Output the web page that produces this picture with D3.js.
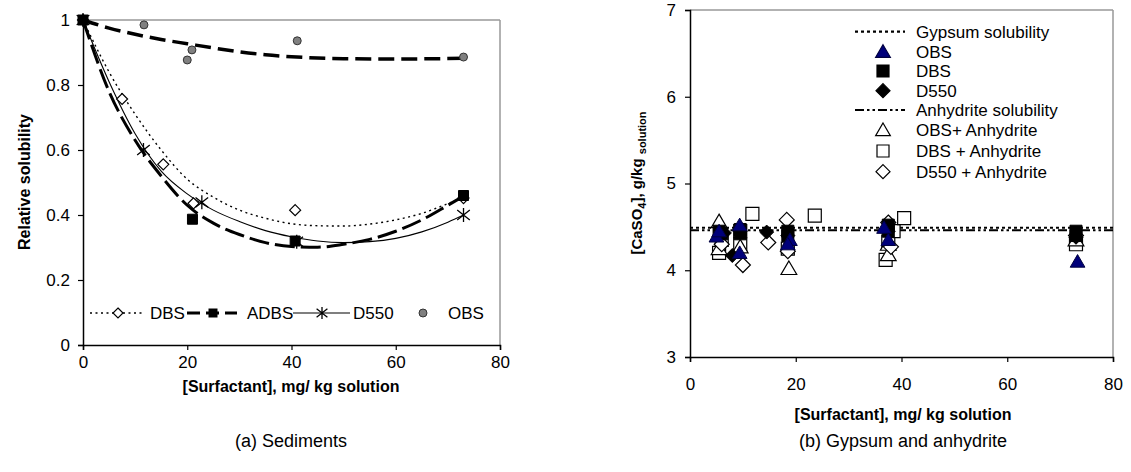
<!DOCTYPE html>
<html><head><meta charset="utf-8">
<script src="https://cdn.jsdelivr.net/npm/d3@7"></script>
<style>body{margin:0;background:#fff}svg{display:block;font-family:"Liberation Sans",Arial,sans-serif}</style>
</head><body><svg id="c" width="1131" height="472"></svg>
<script>
// ---------- Panel (a) data ----------
const xTicksA = [0,20,40,60,80];
const yTicksA = [0,0.2,0.4,0.6,0.8,1];
const dbsX = [0,7.5,15.4,21.2,40.7,73];
const dbsY = [1,0.757,0.556,0.436,0.415,0.452];
const adbsX = [0,21,40.7,73];
const adbsY = [1,0.387,0.32,0.46];
const d550X = [0,11.6,22.8,41,73];
const d550Y = [1,0.60,0.439,0.318,0.40];
const obsX = [0,11.7,20.9,20,41.1,73];
const obsY = [1,0.985,0.908,0.877,0.936,0.886];
// trend lines
const dbsTrendX = [0,5,10,15,20,25,30,35,40,45,50,55,60,65,70,73];
const dbsTrendY = [1,0.84,0.71,0.60,0.51,0.455,0.415,0.39,0.373,0.367,0.366,0.372,0.385,0.405,0.435,0.455];
const adbsTrendX = [0,5,10,15,20,25,30,35,40,45,50,55,60,65,70,73];
const adbsTrendY = [1,0.78,0.63,0.52,0.43,0.375,0.34,0.315,0.303,0.301,0.31,0.325,0.35,0.385,0.43,0.458];
const d550TrendX = [0,5,10,15,20,25,30,35,40,45,50,55,60,65,70,73];
const d550TrendY = [1,0.81,0.65,0.535,0.465,0.415,0.38,0.352,0.333,0.32,0.315,0.318,0.328,0.348,0.378,0.40];
const obsTrendX = [0,5,10,15,20,25,30,35,40,45,50,60,73];
const obsTrendY = [1,0.975,0.956,0.94,0.927,0.914,0.902,0.893,0.887,0.883,0.881,0.88,0.882];

// ---------- Panel (b) data ----------
const xTicksB = [0,20,40,60,80];
const yTicksB = [3,4,5,6,7];
const gypsumSol = 4.49;
const anhydriteSol = 4.46;
const obsB_X = [5,5.5,9.4,9.4,18.9,18.5,36.7,37.5,73.3];
const obsB_Y = [4.39,4.45,4.20,4.52,4.35,4.30,4.49,4.35,4.10];
const dbsB_X = [5.5,6,9.5,9.5,18.5,18.5,37.5,37.5,73,73];
const dbsB_Y = [4.45,4.42,4.47,4.42,4.45,4.40,4.52,4.45,4.45,4.40];
const d550B_X = [6.5,8,9.5,14.5,18.5,37.5,73];
const d550B_Y = [4.43,4.17,4.45,4.44,4.40,4.45,4.38];
const obsAnhX = [5.5,5.5,9.5,18.7,37.5,37.5,73];
const obsAnhY = [4.56,4.25,4.27,4.02,4.18,4.30,4.35];
const dbsAnhX = [5.5,6,9.5,9.5,11.8,18.5,23.6,37,37.5,38.5,40.5,73];
const dbsAnhY = [4.20,4.35,4.30,4.45,4.65,4.25,4.63,4.12,4.33,4.45,4.60,4.30];
const d550AnhX = [6,10,14.8,18.3,18.5,37.5,38,73];
const d550AnhY = [4.30,4.06,4.32,4.58,4.22,4.55,4.27,4.40];

const svg = d3.select("#c");
const FS = 17;

// ================= Panel (a) =================
const xA = d3.scaleLinear().domain([0,80]).range([83,500]);
const yA = d3.scaleLinear().domain([0,1]).range([345,20]);
const gA = svg.append("g");
gA.append("line").attr("x1",xA(0)).attr("x2",xA(80)).attr("y1",yA(1)).attr("y2",yA(1)).attr("stroke","#999").attr("stroke-width",1.5);
gA.append("line").attr("x1",xA(80)).attr("x2",xA(80)).attr("y1",yA(1)).attr("y2",yA(0)).attr("stroke","#999").attr("stroke-width",1.5);
const axA_x = gA.append("g").attr("transform",`translate(0,${yA(0)})`)
  .call(d3.axisBottom(xA).tickValues(xTicksA).tickSize(5).tickPadding(6).tickFormat(d3.format("d")));
const axA_y = gA.append("g").attr("transform",`translate(${xA(0)},0)`)
  .call(d3.axisLeft(yA).tickValues(yTicksA).tickSize(5).tickPadding(8).tickFormat(d=>d===0||d===1?String(d):d3.format(".1f")(d)));
[axA_x,axA_y].forEach(a=>{a.select(".domain").attr("stroke","#000").attr("stroke-width",1.5);
  a.selectAll(".tick line").attr("stroke","#000").attr("stroke-width",1.2);
  a.selectAll("text").attr("font-size",FS).attr("fill","#000").attr("font-family","Liberation Sans, Arial");});

const lineA = d3.line().x(d=>xA(d[0])).y(d=>yA(d[1])).curve(d3.curveMonotoneX);
const zip = (a,b)=>a.map((v,i)=>[v,b[i]]);
gA.append("path").attr("d",lineA(zip(obsTrendX,obsTrendY))).attr("fill","none").attr("stroke","#000").attr("stroke-width",3.5).attr("stroke-dasharray","16,7");
gA.append("path").attr("d",lineA(zip(dbsTrendX,dbsTrendY))).attr("fill","none").attr("stroke","#000").attr("stroke-width",1.4).attr("stroke-dasharray","2,3.5");
gA.append("path").attr("d",lineA(zip(adbsTrendX,adbsTrendY))).attr("fill","none").attr("stroke","#000").attr("stroke-width",3).attr("stroke-dasharray","20,6");
gA.append("path").attr("d",lineA(zip(d550TrendX,d550TrendY))).attr("fill","none").attr("stroke","#000").attr("stroke-width",1.1);

const sym = {
  diamond:(s)=>`M0,${-s}L${s},0L0,${s}L${-s},0Z`,
  square:(s)=>`M${-s},${-s}H${s}V${s}H${-s}Z`,
  tri:(s)=>`M0,${-s}L${s*1.05},${s*0.8}H${-s*1.05}Z`,
  star:(s)=>`M0,${-s}V${s}M${-s*0.9},${-s*0.7}L${s*0.9},${s*0.7}M${-s*0.9},${s*0.7}L${s*0.9},${-s*0.7}`
};
function marks(g,xs,ys,sx,sy,path,fill,stroke,sw){
  g.selectAll(null).data(zip(xs,ys)).enter().append("path")
   .attr("transform",d=>`translate(${sx(d[0])},${sy(d[1])})`).attr("d",path)
   .attr("fill",fill).attr("stroke",stroke).attr("stroke-width",sw);
}
marks(gA,obsX,obsY,xA,yA,d3.symbol(d3.symbolCircle,50)(),"#808080","#333",1);
marks(gA,dbsX,dbsY,xA,yA,sym.diamond(5.5),"#fff","#000",1.2);
marks(gA,adbsX,adbsY,xA,yA,sym.square(5),"#000","#000",1);
marks(gA,d550X,d550Y,xA,yA,sym.star(7),"none","#000",1.3);

// legend (a)
const lgA = gA.append("g");
const ly = 313;
lgA.append("line").attr("x1",90).attr("x2",143).attr("y1",ly).attr("y2",ly).attr("stroke","#000").attr("stroke-width",1.4).attr("stroke-dasharray","2,3.5");
lgA.append("path").attr("transform",`translate(118,${ly})`).attr("d",sym.diamond(5)).attr("fill","#fff").attr("stroke","#000").attr("stroke-width",1.2);
lgA.append("text").attr("x",150).attr("y",ly+6).attr("font-size",FS).text("DBS");
lgA.append("line").attr("x1",187).attr("x2",237).attr("y1",ly).attr("y2",ly).attr("stroke","#000").attr("stroke-width",3).attr("stroke-dasharray","13,6");
lgA.append("path").attr("transform",`translate(213,${ly})`).attr("d",sym.square(4.5)).attr("fill","#000");
lgA.append("text").attr("x",247).attr("y",ly+6).attr("font-size",FS).text("ADBS");
lgA.append("line").attr("x1",293).attr("x2",350).attr("y1",ly).attr("y2",ly).attr("stroke","#000").attr("stroke-width",1.1);
lgA.append("path").attr("transform",`translate(322,${ly})`).attr("d",sym.star(6)).attr("fill","none").attr("stroke","#000").attr("stroke-width",1.3);
lgA.append("text").attr("x",353).attr("y",ly+6).attr("font-size",FS).text("D550");
lgA.append("path").attr("transform",`translate(423,${ly})`).attr("d",d3.symbol(d3.symbolCircle,50)()).attr("fill","#808080").attr("stroke","#333");
lgA.append("text").attr("x",448).attr("y",ly+6).attr("font-size",FS).text("OBS");

gA.append("text").attr("transform","translate(30,182) rotate(-90)").attr("text-anchor","middle")
  .attr("font-size",16).attr("font-weight","bold").text("Relative solubility");
gA.append("text").attr("x",291).attr("y",392).attr("text-anchor","middle").attr("font-size",16).attr("font-weight","bold").text("[Surfactant], mg/ kg solution");
gA.append("text").attr("x",291).attr("y",447).attr("text-anchor","middle").attr("font-size",18).text("(a) Sediments");

// ================= Panel (b) =================
const xB = d3.scaleLinear().domain([0,80]).range([690,1113]);
const yB = d3.scaleLinear().domain([3,7]).range([357,10]);
const gB = svg.append("g");
gB.append("line").attr("x1",xB(0)).attr("x2",xB(80)).attr("y1",yB(7)).attr("y2",yB(7)).attr("stroke","#999").attr("stroke-width",1.5);
gB.append("line").attr("x1",xB(80)).attr("x2",xB(80)).attr("y1",yB(7)).attr("y2",yB(3)).attr("stroke","#999").attr("stroke-width",1.5);
const axB_x = gB.append("g").attr("transform",`translate(0,${yB(3)})`)
  .call(d3.axisBottom(xB).tickValues(xTicksB).tickSize(5).tickPadding(16).tickFormat(d3.format("d")));
const axB_y = gB.append("g").attr("transform",`translate(${xB(0)},0)`)
  .call(d3.axisLeft(yB).tickValues(yTicksB).tickSize(5).tickPadding(9).tickFormat(d3.format("d")));
[axB_x,axB_y].forEach(a=>{a.select(".domain").attr("stroke","#000").attr("stroke-width",1.5);
  a.selectAll(".tick line").attr("stroke","#000").attr("stroke-width",1.2);
  a.selectAll("text").attr("font-size",FS).attr("fill","#000").attr("font-family","Liberation Sans, Arial");});

gB.append("line").attr("x1",xB(0)).attr("x2",xB(80)).attr("y1",yB(anhydriteSol)).attr("y2",yB(anhydriteSol))
  .attr("stroke","#000").attr("stroke-width",2).attr("stroke-dasharray","9,3,2.5,3,2.5,3");
gB.append("line").attr("x1",xB(0)).attr("x2",xB(80)).attr("y1",yB(gypsumSol)).attr("y2",yB(gypsumSol))
  .attr("stroke","#000").attr("stroke-width",2.2).attr("stroke-dasharray","3,3");

marks(gB,dbsAnhX,dbsAnhY,xB,yB,sym.square(6.5),"#fff","#000",1.2);
marks(gB,obsAnhX,obsAnhY,xB,yB,sym.tri(7.5),"#fff","#000",1.2);
marks(gB,d550AnhX,d550AnhY,xB,yB,sym.diamond(7.5),"#fff","#000",1.2);
marks(gB,dbsB_X,dbsB_Y,xB,yB,sym.square(6),"#000","#000",1);
marks(gB,d550B_X,d550B_Y,xB,yB,sym.diamond(7),"#000","#000",1);
marks(gB,obsB_X,obsB_Y,xB,yB,sym.tri(7),"#00007a","#000040",1);

// legend (b)
const lgB = gB.append("g");
const rows = [31.7,51.7,71,90.7,110,130,151,171.7];
const mx = 883, tx = 916;
const items = [
  {t:"Gypsum solubility", line:"3,3", w:2.2},
  {t:"OBS", m:sym.tri(7), f:"#00007a", s:"#000040"},
  {t:"DBS", m:sym.square(6), f:"#000", s:"#000"},
  {t:"D550", m:sym.diamond(7), f:"#000", s:"#000"},
  {t:"Anhydrite solubility", line:"9,3,2.5,3,2.5,3", w:2},
  {t:"OBS+ Anhydrite", m:sym.tri(7), f:"#fff", s:"#000"},
  {t:"DBS + Anhydrite", m:sym.square(6), f:"#fff", s:"#000"},
  {t:"D550 + Anhydrite", m:sym.diamond(7), f:"#fff", s:"#000"}
];
items.forEach((it,i)=>{
  const y = rows[i];
  if(it.line) lgB.append("line").attr("x1",855).attr("x2",905).attr("y1",y).attr("y2",y).attr("stroke","#000").attr("stroke-width",it.w).attr("stroke-dasharray",it.line);
  else lgB.append("path").attr("transform",`translate(${mx},${y})`).attr("d",it.m).attr("fill",it.f).attr("stroke",it.s).attr("stroke-width",1.2);
  lgB.append("text").attr("x",tx).attr("y",y+6).attr("font-size",FS).text(it.t);
});

const yt = gB.append("text").attr("transform","translate(642,183) rotate(-90)").attr("text-anchor","middle")
  .attr("font-size",15).attr("font-weight","bold");
yt.append("tspan").text("[CaSO");
yt.append("tspan").attr("font-size",11).attr("dy",4).text("4");
yt.append("tspan").attr("dy",-4).text("], g/kg ");
yt.append("tspan").attr("font-size",11).attr("dy",4).text("solution");
gB.append("text").attr("x",903).attr("y",420).attr("text-anchor","middle").attr("font-size",16).attr("font-weight","bold").text("[Surfactant], mg/ kg solution");
gB.append("text").attr("x",903).attr("y",447).attr("text-anchor","middle").attr("font-size",18).text("(b) Gypsum and anhydrite");
</script></body></html>
